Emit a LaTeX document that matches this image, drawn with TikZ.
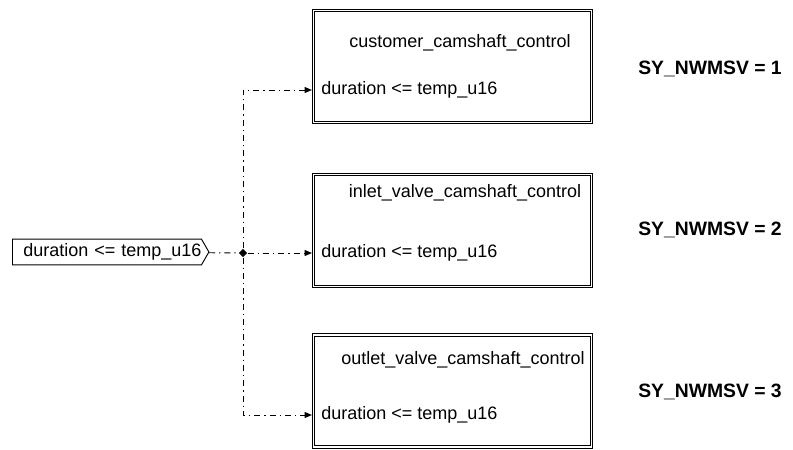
\documentclass[tikz,border=0pt]{standalone}
\usepackage{fontspec}
\setmainfont{Liberation Sans}
\usetikzlibrary{arrows.meta,shapes.geometric,shapes.symbols}
\tikzset{
  modul/.style={
    draw=black,
    line width=.7pt,
    minimum width=210.2pt,
    minimum height=85.6pt,
    inner sep=0pt
  },
  rahmen/.style={
    draw=black,
    line width=.7pt
  },
  eingang/.style={
    draw=black,
    line width=.7pt,
    signal, signal to=east, signal pointer angle=120,
    text width=141.75pt, align=right,
    inner xsep=0pt, minimum height=18pt,
    font=\fontsize{13.5}{16}\selectfont
  },
  sig/.style={
    anchor=west,
    inner sep=0pt,
    font=\fontsize{13.5}{16}\selectfont
  },
  titel/.style={
    inner sep=0pt,
    font=\fontsize{13.5}{16}\selectfont
  },
  bedingung/.style={
    anchor=west,
    inner sep=0pt,
    font=\bfseries\fontsize{14.5}{17}\selectfont
  },
  knoten/.style={
    diamond,
    fill=black,
    inner sep=0pt,
    minimum size=6.5pt
  },
  fluss/.style={
    line width=.7pt,
    dash pattern=on 4.5pt off 3pt on 1pt off 3pt
  },
  pfeil/.style={
    fluss,
    -{Triangle[length=5.5pt,width=4.5pt]}
  }
}

\begin{document}
\begin{tikzpicture}[x=0.75pt,y=-0.75pt]
\useasboundingbox (0,0) rectangle (793,450);
% Eingang
\node[eingang] (src) at (107,252) {duration <= temp\_u16};
\node[knoten] (jn) at (243,253) {};
% Module
\node[modul] (b1) at (452.5,66.5) {};
\node[modul] (b2) at (452.5,230.3) {};
\node[modul] (b3) at (452.5,391) {};
\foreach \b in {b1,b2,b3}
  \draw[rahmen] ([shift={(2.8,2.8)}]\b.north west) rectangle ([shift={(-2.8,-2.8)}]\b.south east);
\node[titel] (t1) at (460,43) {customer\_camshaft\_control};
\node[titel] (t2) at (465,193) {inlet\_valve\_camshaft\_control};
\node[titel] (t3) at (463,360) {outlet\_valve\_camshaft\_control};
\node[sig] (d1) at (321,90) {duration <= temp\_u16};
\node[sig] (d2) at (321,253) {duration <= temp\_u16};
\node[sig] (d3) at (321,415) {duration <= temp\_u16};
% Bedingungen
\node[bedingung] (c1) at (638,69) {SY\_NWMSV = 1};
\node[bedingung] (c2) at (638,230) {SY\_NWMSV = 2};
\node[bedingung] (c3) at (638,392) {SY\_NWMSV = 3};
% Verbindungen
\draw[fluss] (src) -- (jn);
\draw[pfeil] (jn) |- (b1.west |- d1.west);
\draw[pfeil] (jn) -- (b2.west |- d2.west);
\draw[pfeil] (jn) |- (b3.west |- d3.west);
\end{tikzpicture}
\end{document}
